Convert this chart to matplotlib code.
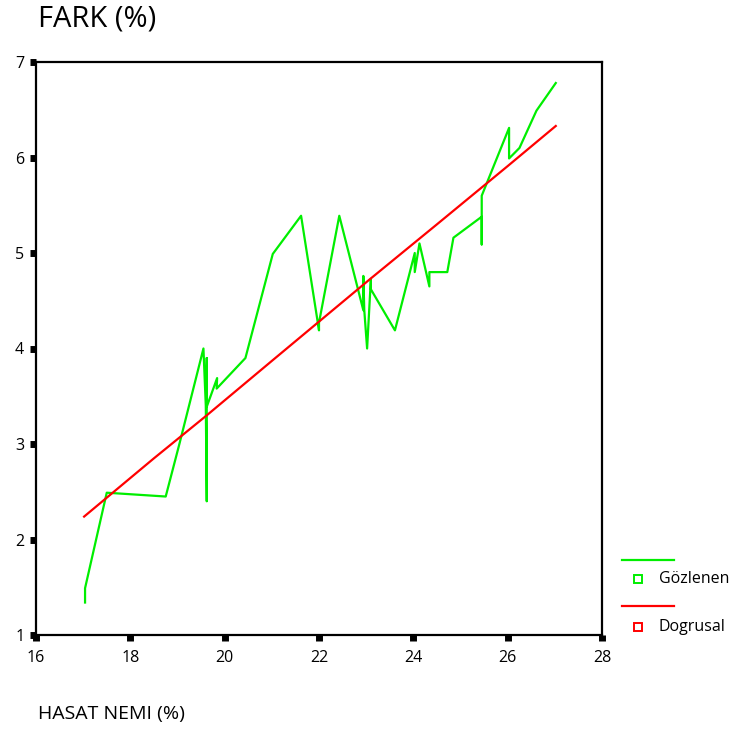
import matplotlib.pyplot as plt
from matplotlib.lines import Line2D

plt.rcParams['font.family'] = ['Open Sans', 'DejaVu Sans']

# observed values (Gözlenen), in drawing order
obs_x = [17.04, 17.04, 17.50, 18.75, 19.04, 19.55, 19.60, 19.62, 19.62, 19.62,
         19.84, 19.83, 20.44, 21.02, 21.62, 22.00, 22.00, 22.43, 22.94, 22.94,
         22.96, 23.02, 23.10, 23.10, 23.61, 24.03, 24.03, 24.13, 24.34, 24.34,
         24.72, 24.85, 25.45, 25.45, 25.45, 26.03, 26.03, 26.25, 26.61, 27.02]
obs_y = [1.34, 1.49, 2.49, 2.45, 3.00, 4.00, 3.40, 2.40, 3.90, 3.39,
         3.69, 3.58, 3.90, 4.99, 5.39, 4.19, 4.27, 5.39, 4.40, 4.76,
         4.40, 4.00, 4.73, 4.62, 4.19, 5.00, 4.80, 5.10, 4.65, 4.80,
         4.80, 5.16, 5.38, 5.09, 5.60, 6.31, 5.99, 6.10, 6.49, 6.78]

# linear fit (Dogrusal)
fit_x = [17.02, 18.50, 19.62, 21.00, 23.09, 24.50, 26.00, 27.02]
fit_y = [2.24, 2.85, 3.30, 3.87, 4.73, 5.30, 5.91, 6.33]

fig = plt.figure(figsize=(7.31, 7.29), dpi=100)
ax = fig.add_axes([36 / 731, 1 - 635 / 729, 566 / 731, 573 / 729])

ax.plot(obs_x, obs_y, color='#00ee00', lw=1.6)
ax.plot(fit_x, fit_y, color='#ff0000', lw=1.6)

ax.set_xlim(16, 28)
ax.set_ylim(1, 7)
ax.set_xticks(range(16, 29, 2))
ax.set_yticks(range(1, 8))
ax.tick_params(direction='out', length=4.5, width=5, labelsize=11.5, color='black', pad=3)
ax.tick_params(axis='x', pad=6)
ax.tick_params(axis='y', pad=4)
for s in ax.spines.values():
    s.set_linewidth(1.6)

fig.text(38 / 731, 1 - 19 / 729, 'FARK (%)', fontsize=21, va='center', ha='left')
fig.text(38 / 731, 1 - 714 / 729, 'HASAT NEMI (%)', fontsize=14, va='center', ha='left')

# legend drawn by hand: line sample on one row, marker + text on the next
W, H = 731, 729
for ly, my, col, lab in [(560, 579, '#00ee00', 'Gözlenen'), (606, 627, '#ff0000', 'Dogrusal')]:
    fig.add_artist(Line2D([622 / W, 674 / W], [1 - ly / H, 1 - ly / H], color=col, lw=1.6))
    fig.add_artist(Line2D([638 / W], [1 - my / H], marker='s', markersize=6, mfc='white',
                          mec=col, mew=1.4, ls='none'))
    fig.text(659 / W, 1 - my / H, lab, fontsize=11.5, va='center', ha='left')

fig.savefig('out.png', dpi=100)
